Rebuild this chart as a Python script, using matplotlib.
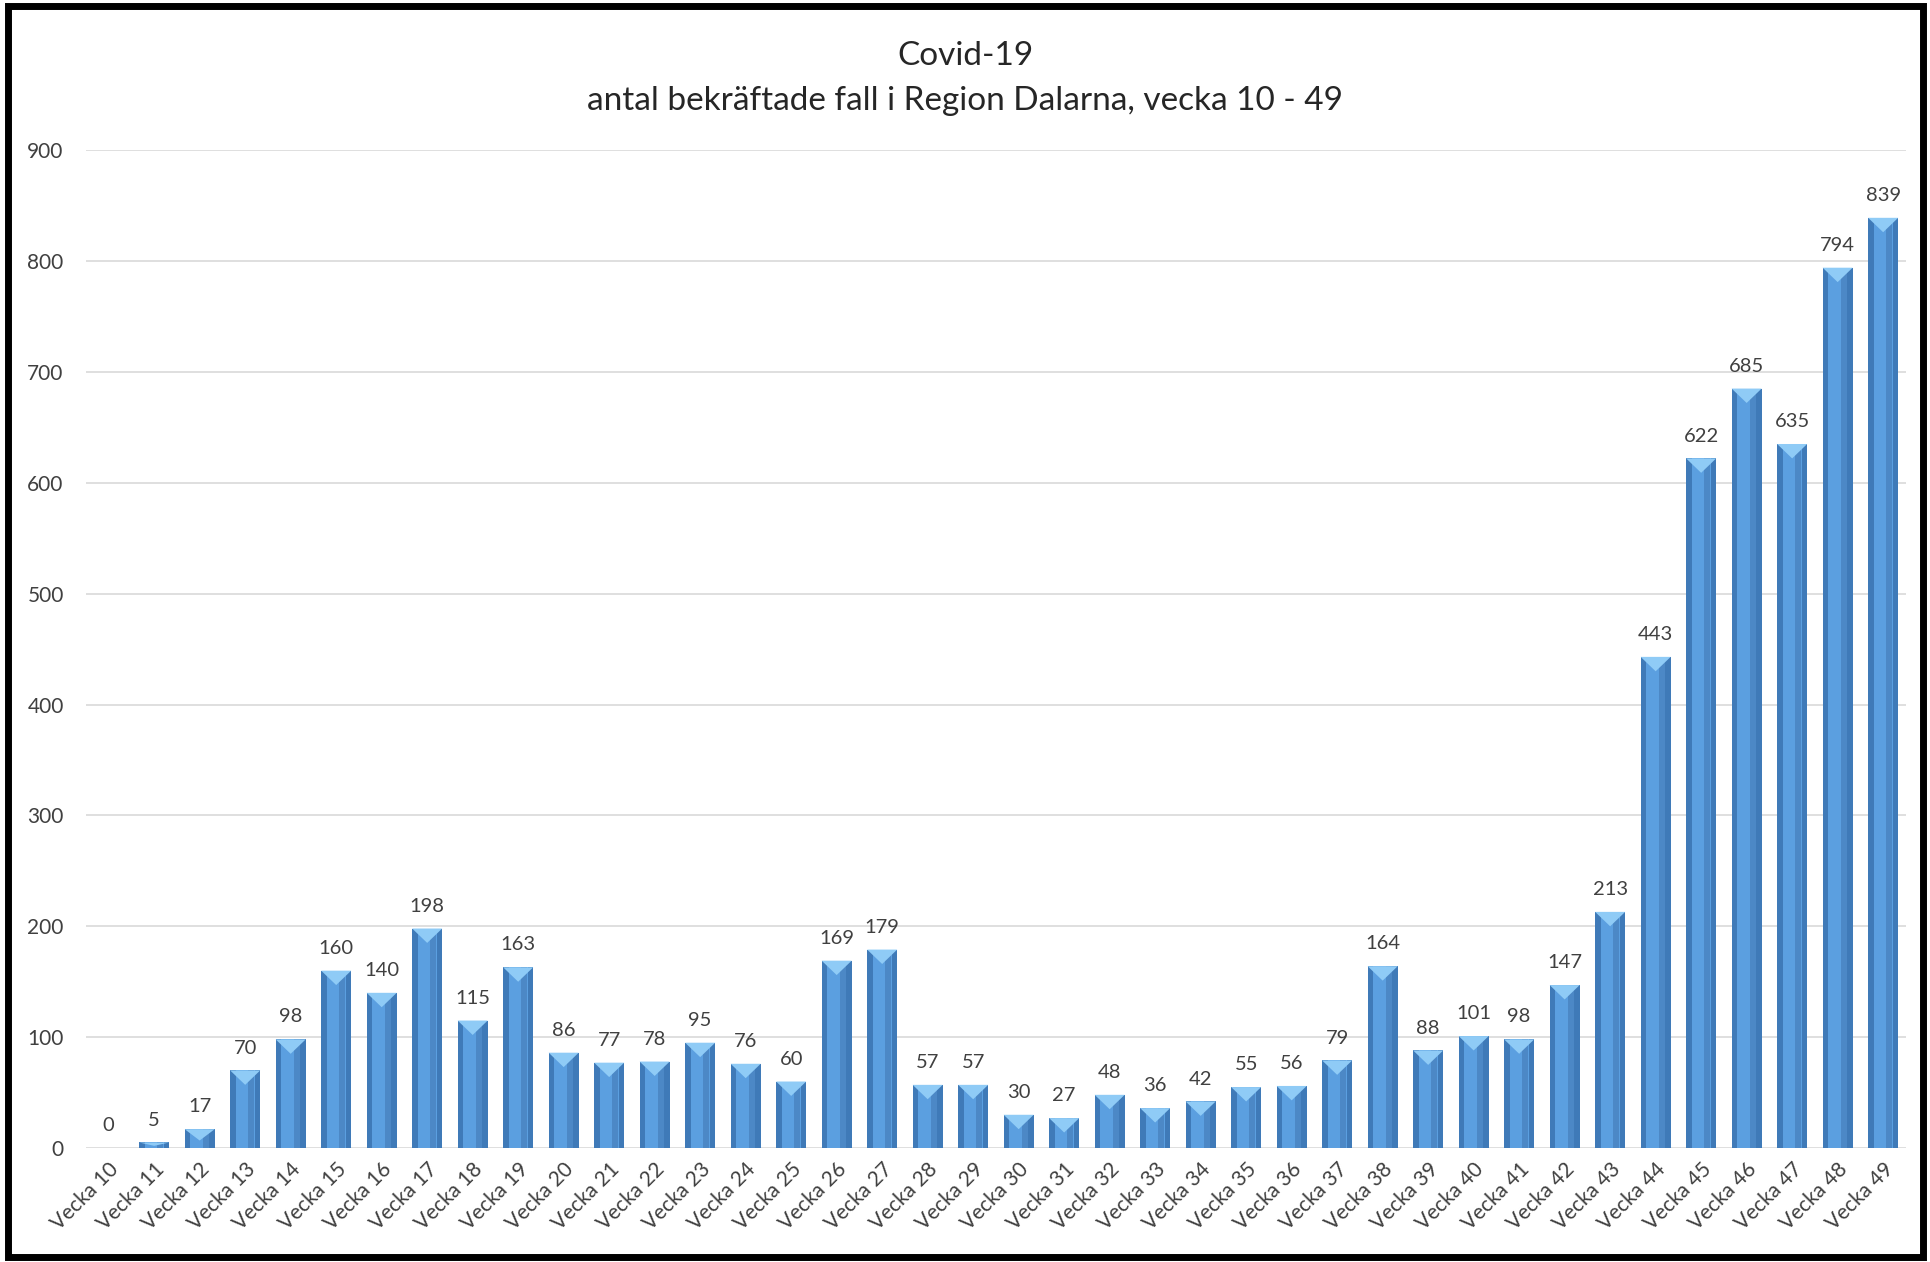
import matplotlib.pyplot as plt
from matplotlib.patches import Rectangle, Polygon

plt.rcParams['font.family'] = ['Lato', 'DejaVu Sans']

weeks = list(range(10, 50))
labels = [f'Vecka {w}' for w in weeks]
cases = [0, 5, 17, 70, 98, 160, 140, 198, 115, 163,
         86, 77, 78, 95, 76, 60, 169, 179, 57, 57,
         30, 27, 48, 36, 42, 55, 56, 79, 164, 88,
         101, 98, 147, 213, 443, 622, 685, 635, 794, 839]

fig = plt.figure(figsize=(19.31, 12.62), dpi=100)
ax = fig.add_axes([0.0445, 0.0903, 0.9425, 0.7907])

x = list(range(len(cases)))
width = 0.66
ax.bar(x, cases, width=width, color='#3F7AB8', zorder=2)
ax.bar(x, cases, width=width * 0.64, color='#5B9FE0', zorder=3)
ax.bar([i + width * 0.2 for i in x], cases, width=width * 0.2, color='#4C88C6', zorder=3)

# bevel triangle at the top of each bar, and value labels
for i, v in zip(x, cases):
    if v > 0:
        d = min(13, v * 0.6)
        tri = Polygon([(i - width / 2, v), (i + width / 2, v), (i, v - d)],
                      closed=True, color='#8FCBF6', zorder=4, lw=0)
        ax.add_patch(tri)
    ax.annotate(str(v), (i, v), xytext=(0, 10), textcoords='offset points',
                ha='center', va='bottom', fontsize=14.5, color='#404040')

ax.set_xlim(-0.5, len(cases) - 0.5)
ax.set_ylim(0, 900)
ax.set_yticks(range(0, 901, 100))
ax.yaxis.grid(True, color='#D9D9D9', lw=1.2, zorder=0)
ax.set_axisbelow(True)
for s in ax.spines.values():
    s.set_visible(False)
ax.tick_params(axis='both', length=0, labelsize=15, labelcolor='#404040')
ax.tick_params(axis='y', pad=16)
ax.set_xticks(x)
ax.set_xticklabels(labels, rotation=45, ha='right', rotation_mode='anchor')
ax.tick_params(axis='x', pad=8)

fig.text(0.5, 0.956, 'Covid-19', ha='center', va='center', fontsize=24, color='#262626')
fig.text(0.5, 0.920, 'antal bekräftade fall i Region Dalarna, vecka 10 - 49',
         ha='center', va='center', fontsize=24, color='#262626')

fig.patches.append(Rectangle((0.004, 0.004), 0.992, 0.991, transform=fig.transFigure,
                             fill=False, edgecolor='black', lw=5))

fig.savefig('out.png', dpi=100)
